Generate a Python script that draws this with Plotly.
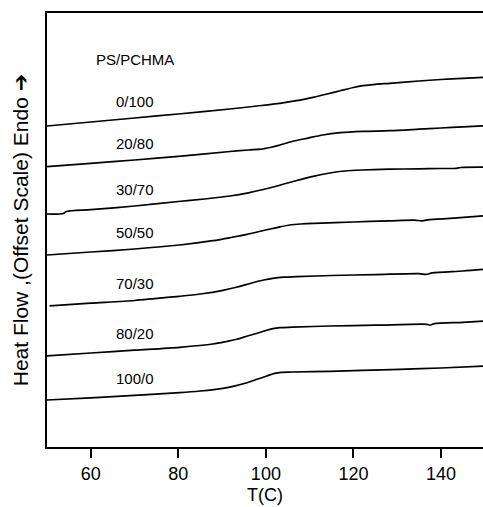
import numpy as np
import plotly.graph_objects as go

# ---- data ----
labels = ["0/100", "20/80", "30/70", "50/50", "70/30", "80/20", "100/0"]

t_0_100 = [50, 60, 70, 80, 91.8, 98, 103.2, 107, 110.8, 114, 117, 120, 122.2, 125, 128.3, 135, 140, 145, 150]
hf_0_100 = [321, 325, 329, 333, 338, 341, 343.7, 346.3, 349.7, 353, 356.3, 359.5, 361.3, 362.7, 363.7, 366, 367.5, 368.7, 369.7]

t_20_80 = [50, 60, 70, 80, 91.8, 96, 99.4, 101.5, 103.2, 106, 109.4, 113, 117, 122, 128.3, 135, 140, 145, 150]
hf_20_80 = [280.3, 283.7, 287, 290.7, 295.5, 297, 298.2, 300, 302, 305.5, 308.7, 312, 314.3, 315.6, 316.3, 317.8, 319, 320.1, 321.2]

t_30_70 = [50, 53.5, 54.5, 60, 70, 80, 86, 91.8, 96, 99.4, 103, 107, 110.8, 114.6, 118, 122, 128.3, 135, 140, 143.5, 144.5, 150]
hf_30_70 = [233, 233.2, 235.5, 237.3, 241, 245.5, 248, 251, 254.2, 257.5, 261.5, 266.5, 270.7, 274, 276, 277, 277.8, 278.2, 278.5, 278.7, 279.5, 279.8]

t_50_50 = [50, 60, 70, 80.3, 87.9, 92, 95.7, 98.5, 101, 103.3, 105.5, 108, 111, 120, 128, 134, 135.5, 137, 143, 150]
hf_50_50 = [192, 195, 198, 202, 206.3, 209.5, 212.7, 215.5, 218, 220.2, 222, 223, 223.7, 225, 226.1, 226.9, 226.1, 227.2, 228.8, 231.2]

t_70_30 = [50.6, 60, 70, 74.6, 80.3, 85, 90.2, 93.5, 97, 99.5, 101.6, 104, 107, 115, 125, 135, 136.6, 138, 145, 150]
hf_70_30 = [141.2, 143.8, 146.5, 148.4, 150.7, 153, 156.7, 160, 164.3, 167, 168.7, 169.8, 170.3, 171.5, 172.4, 173.4, 172.6, 174.1, 176, 177.7]

t_80_20 = [50, 60, 70, 80.3, 87.9, 91, 93.4, 96, 98, 100, 101.6, 103.2, 106, 114.6, 125, 136.8, 137.5, 138.5, 145, 150]
hf_80_20 = [91.2, 94, 96.8, 99.7, 103, 105.5, 107.7, 111.3, 113.7, 116.5, 118.3, 119.3, 119.8, 121, 121.8, 122.7, 122, 123.3, 124.7, 126]

t_100_0 = [50, 60, 70, 80.3, 85, 90.2, 93, 95.7, 98, 100.2, 102, 103.5, 106, 114.6, 122, 130.6, 140, 150]
hf_100_0 = [47, 49.2, 51.7, 54.3, 56, 58.7, 61.2, 64.3, 67.7, 71, 73.7, 74.7, 75, 75.7, 76.6, 77.7, 79, 81]

x_ticks = [60, 80, 100, 120, 140]
x_range = [50, 149.6]
y_range = [0, 434]

series = [
    (t_0_100, hf_0_100), (t_20_80, hf_20_80), (t_30_70, hf_30_70),
    (t_50_50, hf_50_50), (t_70_30, hf_70_30), (t_80_20, hf_80_20),
    (t_100_0, hf_100_0),
]

FONT = "Liberation Sans, Arial, sans-serif"
LABEL_T = 70
LABEL_GAP = 17

fig = go.Figure()
annotations = []
for name, (t, hf) in zip(labels, series):
    fig.add_trace(go.Scatter(
        x=t, y=hf, mode="lines", name=name,
        line=dict(color="black", width=1.7, shape="spline", smoothing=0.8),
        showlegend=False, hoverinfo="skip",
    ))
    annotations.append(dict(
        x=LABEL_T, y=float(np.interp(LABEL_T, t, hf)) + LABEL_GAP,
        xref="x", yref="y", text=name, showarrow=False,
        font=dict(family=FONT, size=15, color="black"),
    ))

top_label_y = annotations[0]["y"]
annotations.append(dict(
    x=LABEL_T, y=top_label_y + 42, xref="x", yref="y", text="PS/PCHMA",
    showarrow=False, font=dict(family=FONT, size=15, color="black"),
))

fig.update_layout(
    width=483, height=507,
    margin=dict(l=47, r=0, t=13, b=60),
    paper_bgcolor="white", plot_bgcolor="white",
    annotations=annotations,
    font=dict(family=FONT, color="black"),
    xaxis=dict(
        range=x_range, tickvals=x_ticks, ticks="outside", ticklen=9, tickwidth=2,
        tickcolor="black", showline=True, linecolor="black", linewidth=2,
        mirror=True, showgrid=False, zeroline=False,
        tickfont=dict(family=FONT, size=18, color="black"),
        title=dict(text="T(C)", font=dict(family=FONT, size=18, color="black"), standoff=6),
    ),
    yaxis=dict(
        range=y_range, showticklabels=False, ticks="", showline=True,
        linecolor="black", linewidth=2, showgrid=False, zeroline=False,
        title=dict(text="Heat Flow ,(Offset Scale) Endo <span style='font-family:DejaVu Sans'>➔</span>",
                   font=dict(family=FONT, size=21, color="black"), standoff=11),
    ),
)

fig.write_html("out.html")
